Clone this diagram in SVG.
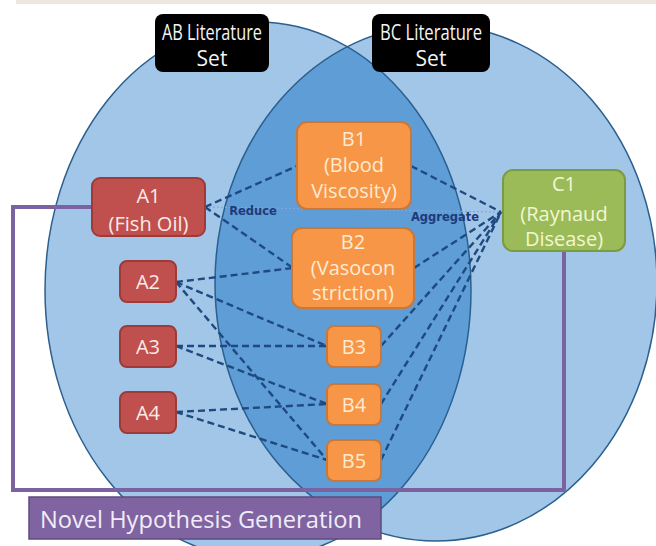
<svg xmlns="http://www.w3.org/2000/svg" width="656" height="546" viewBox="0 0 656 546">
<style>
.lbl{font-family:"Open Sans","Noto Sans",sans-serif;font-size:21px;fill:#F4F4F4;text-anchor:middle}
.nt{font-family:"Open Sans","Noto Sans",sans-serif;font-size:20px;text-anchor:middle}
.a{fill:#C0504D;stroke:#9E3A37;stroke-width:2}
.at{fill:#FBEAEA}
.b{fill:#F79646;stroke:#C9783A;stroke-width:2}
.bt{fill:#FDEBD3}
.c{fill:#9BBB59;stroke:#7A9A44;stroke-width:2}
.ct{fill:#F2F7D2}
.dash{fill:none;stroke:#1F4A80;stroke-width:2.4;stroke-dasharray:7 4}
.dot{fill:none;stroke:#7FA6D6;stroke-width:1.2;stroke-dasharray:2 2}
.rel{font-family:"DejaVu Sans","Liberation Sans",sans-serif;font-size:11.5px;font-weight:bold;fill:#1F3A7A;text-anchor:middle}
</style>
<defs>
<clipPath id="clipL"><ellipse cx="258" cy="290" rx="213" ry="268"/></clipPath>
</defs>
<rect width="656" height="546" fill="#FFFFFF"/>
<rect x="16" y="0" width="640" height="4" fill="#ECE8E0"/>
<g id="sets">
<ellipse cx="258" cy="290" rx="213" ry="268" fill="#A2C6E8"/>
<ellipse cx="436" cy="283" rx="221" ry="258" fill="#A2C6E8"/>
<ellipse cx="436" cy="283" rx="221" ry="258" fill="#5E9DD6" clip-path="url(#clipL)"/>
<ellipse cx="258" cy="290" rx="213" ry="268" fill="none" stroke="#2B5F8E" stroke-width="1.5"/>
<ellipse cx="436" cy="283" rx="221" ry="258" fill="none" stroke="#2B5F8E" stroke-width="1.5"/>
</g>
<g id="ab-label">
<rect x="155" y="14" width="114" height="58" rx="8" fill="#000"/>
<text class="lbl" x="212" y="40" textLength="100" lengthAdjust="spacingAndGlyphs">AB Literature</text>
<text class="lbl" x="212" y="66">Set</text>
</g>
<g id="bc-label">
<rect x="372" y="14" width="118" height="58" rx="8" fill="#000"/>
<text class="lbl" x="431" y="40" textLength="102" lengthAdjust="spacingAndGlyphs">BC Literature</text>
<text class="lbl" x="431" y="66">Set</text>
</g>
<g id="connectors">
<path class="dot" d="M205,207 L501,212"/>
<path class="dash" d="M205,207 L297,166"/>
<path class="dash" d="M205,207 L293,268"/>
<path class="dash" d="M176,282 L293,268"/>
<path class="dash" d="M176,282 L327,346"/>
<path class="dash" d="M176,282 L327,460"/>
<path class="dash" d="M176,346 L327,346"/>
<path class="dash" d="M176,346 L327,404"/>
<path class="dash" d="M176,412 L327,404"/>
<path class="dash" d="M176,412 L327,460"/>
<path class="dash" d="M411,166 L501,212"/>
<path class="dash" d="M414,268 L501,212"/>
<path class="dash" d="M381,346 L501,212"/>
<path class="dash" d="M381,404 L501,212"/>
<path class="dash" d="M381,460 L501,212"/>
</g>
<g id="purple-frame">
<path d="M92,207 H13 V490 H564 V252" fill="none" stroke="#7B62A0" stroke-width="4"/>
</g>
<g id="A1">
<rect class="a" x="92" y="178" width="113" height="58" rx="8"/>
<text class="nt at" x="148.5" y="203" font-size="21">A1</text>
<text class="nt at" x="148.5" y="231" font-size="21">(Fish Oil)</text>
</g>
<g id="A2">
<rect class="a" x="120" y="261" width="56" height="41" rx="7"/>
<text class="nt at" x="148" y="289">A2</text>
</g>
<g id="A3">
<rect class="a" x="120" y="326" width="56" height="41" rx="7"/>
<text class="nt at" x="148" y="354">A3</text>
</g>
<g id="A4">
<rect class="a" x="120" y="392" width="56" height="41" rx="7"/>
<text class="nt at" x="148" y="420">A4</text>
</g>
<g id="B1">
<rect class="b" x="297" y="122" width="114" height="87" rx="10"/>
<text class="nt bt" x="354" y="146" font-size="18.5">B1</text>
<text class="nt bt" x="354" y="172" font-size="18.5">(Blood</text>
<text class="nt bt" x="354" y="198" font-size="18.5">Viscosity)</text>
</g>
<g id="B2">
<rect class="b" x="292" y="228" width="122" height="80" rx="10"/>
<text class="nt bt" x="353" y="249">B2</text>
<text class="nt bt" x="353" y="275">(Vasocon</text>
<text class="nt bt" x="353" y="300">striction)</text>
</g>
<g id="B3">
<rect class="b" x="327" y="326" width="54" height="41" rx="7"/>
<text class="nt bt" x="354" y="354">B3</text>
</g>
<g id="B4">
<rect class="b" x="327" y="384" width="54" height="41" rx="7"/>
<text class="nt bt" x="354" y="412">B4</text>
</g>
<g id="B5">
<rect class="b" x="327" y="440" width="54" height="41" rx="7"/>
<text class="nt bt" x="354" y="468">B5</text>
</g>
<g id="C1">
<rect class="c" x="503" y="170" width="122" height="81" rx="10"/>
<text class="nt ct" x="564" y="191">C1</text>
<text class="nt ct" x="564" y="221">(Raynaud</text>
<text class="nt ct" x="564" y="246">Disease)</text>
</g>
<g id="relations">
<text class="rel" x="253" y="215">Reduce</text>
<text class="rel" x="445" y="221">Aggregate</text>
</g>
<g id="hypothesis">
<rect x="29" y="497" width="352" height="42" fill="#8064A2" stroke="#5E4A7E" stroke-width="1.5"/>
<text x="40" y="528" font-family="Open Sans, Noto Sans, sans-serif" font-size="24" fill="#F1ECF7" textLength="322" lengthAdjust="spacingAndGlyphs">Novel Hypothesis Generation</text>
</g>
</svg>
